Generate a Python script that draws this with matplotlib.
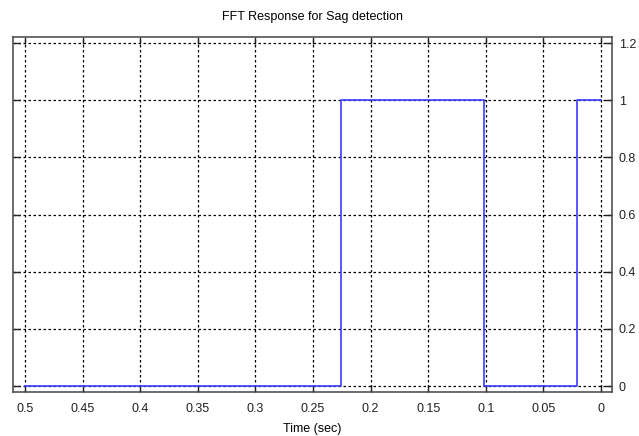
import matplotlib.pyplot as plt

# Sag detection flag vs time (time axis runs right to left)
time_sec = [0.5, 0.2257, 0.2257, 0.1016, 0.1016, 0.021, 0.021, 0.0]
fft_flag = [0, 0, 1, 1, 0, 0, 1, 1]

x_ticks = [0.5, 0.45, 0.4, 0.35, 0.3, 0.25, 0.2, 0.15, 0.1, 0.05, 0]
x_labels = ['0.5', '0.45', '0.4', '0.35', '0.3', '0.25', '0.2', '0.15', '0.1', '0.05', '0']
y_ticks = [0, 0.2, 0.4, 0.6, 0.8, 1, 1.2]
y_labels = ['0', '0.2', '0.4', '0.6', '0.8', '1', '1.2']

plt.rcParams['font.family'] = ['Liberation Sans Narrow', 'Liberation Sans', 'DejaVu Sans']

fig = plt.figure(figsize=(6.39, 4.36), dpi=100)
ax = fig.add_axes([0.0203, 0.1009, 0.9374, 0.8141])

ax.plot(time_sec, fft_flag, color='#3b3bff', linewidth=1.2)

ax.set_xlim(0.5104, -0.0095)
ax.set_ylim(-0.021, 1.221)
ax.set_xticks(x_ticks)
ax.set_xticklabels(x_labels)
ax.set_yticks(y_ticks)
ax.set_yticklabels(y_labels)

ax.yaxis.tick_right()
ax.tick_params(axis='both', which='both', direction='in', top=True, bottom=True,
               left=True, right=True, labelsize=9, length=5, width=1,
               colors='#222222')
ax.tick_params(axis='x', pad=8)
ax.tick_params(axis='y', labelright=True, labelleft=False, pad=5)

ax.grid(True, color='black', linestyle=(0, (2, 2)), linewidth=0.9)
for s in ax.spines.values():
    s.set_color('#444444')
    s.set_linewidth(1.1)

ax.set_title('FFT Response for Sag detection', fontsize=9, pad=12)
ax.set_xlabel('Time (sec)', fontsize=9, labelpad=6)

fig.savefig('out.png', dpi=100)
